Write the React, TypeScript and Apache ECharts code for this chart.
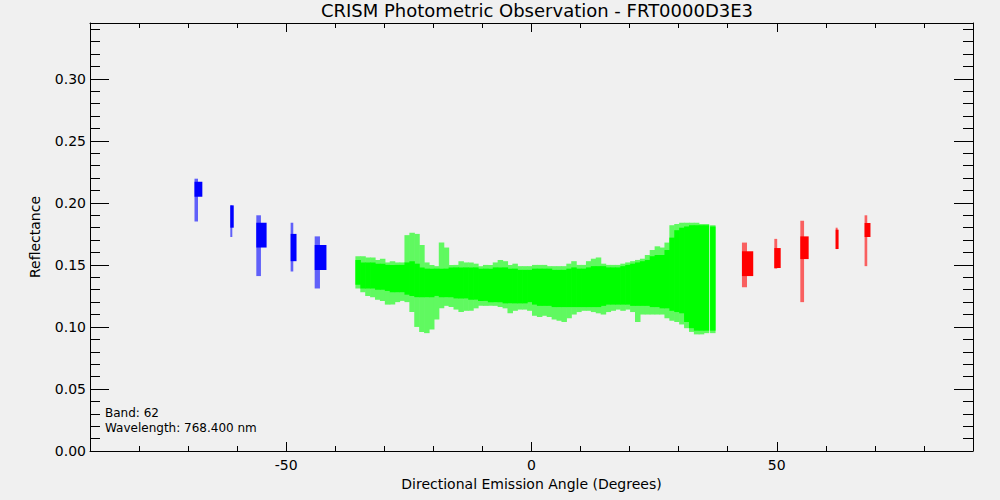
import { useEffect, useRef } from "react";
import * as echarts from "echarts";

const TITLE = "CRISM Photometric Observation - FRT0000D3E3";
const X_NAME = "Directional Emission Angle (Degrees)";
const Y_NAME = "Reflectance";
const NOTE_BAND = "Band: 62";
const NOTE_WAVE = "Wavelength: 768.400 nm";

const xMajorTicks = [-50, 0, 50];
const xMinorTicks = [-80, -70, -60, -40, -30, -20, -10, 10, 20, 30, 40, 60, 70, 80];
const yMajorTicks = [0, 0.05, 0.1, 0.15, 0.2, 0.25, 0.3];
const yMinorTicks = [
  0.01, 0.02, 0.03, 0.04, 0.06, 0.07, 0.08, 0.09, 0.11, 0.12, 0.13, 0.14,
  0.16, 0.17, 0.18, 0.19, 0.21, 0.22, 0.23, 0.24, 0.26, 0.27, 0.28, 0.29,
  0.31, 0.32, 0.33, 0.34,
];

// Green (nadir-ish) observation: per 1-degree column, dense core and sparse envelope
const greenAngle = [
  -35.4, -34.4, -33.4, -32.4, -31.4, -30.4, -29.4, -28.4, -27.4, -26.4,
  -25.4, -24.4, -23.4, -22.4, -21.4, -20.4, -19.4, -18.4, -17.4, -16.4,
  -15.4, -14.4, -13.4, -12.4, -11.4, -10.4, -9.4, -8.4, -7.4, -6.4,
  -5.4, -4.4, -3.4, -2.4, -1.4, -0.4, 0.6, 1.6, 2.6, 3.6,
  4.6, 5.6, 6.6, 7.6, 8.6, 9.6, 10.6, 11.6, 12.6, 13.6,
  14.6, 15.6, 16.6, 17.6, 18.6, 19.6, 20.6, 21.6, 22.6, 23.6,
  24.6, 25.6, 26.6, 27.6, 28.6, 29.6, 30.6, 31.6, 32.6, 33.6,
  34.6, 35.6, 36.9,
];
const greenCoreLo = [
  0.134, 0.131, 0.131, 0.131, 0.130, 0.130, 0.129, 0.128, 0.128, 0.128,
  0.126, 0.125, 0.124, 0.124, 0.124, 0.124, 0.125, 0.124, 0.124, 0.124,
  0.123, 0.123, 0.123, 0.122, 0.122, 0.121, 0.121, 0.120, 0.120, 0.120,
  0.119, 0.119, 0.119, 0.119, 0.119, 0.120, 0.118, 0.117, 0.117, 0.117,
  0.116, 0.116, 0.116, 0.116, 0.116, 0.116, 0.116, 0.116, 0.116, 0.116,
  0.117, 0.118, 0.118, 0.118, 0.118, 0.118, 0.117, 0.117, 0.117, 0.117,
  0.116, 0.116, 0.115, 0.115, 0.113, 0.112, 0.111, 0.104, 0.099, 0.097,
  0.097, 0.097, 0.097,
];
const greenCoreHi = [
  0.154, 0.152, 0.152, 0.152, 0.151, 0.151, 0.150, 0.150, 0.150, 0.150,
  0.152, 0.153, 0.151, 0.148, 0.147, 0.147, 0.147, 0.147, 0.147, 0.148,
  0.148, 0.148, 0.148, 0.148, 0.148, 0.147, 0.147, 0.147, 0.148, 0.148,
  0.148, 0.147, 0.147, 0.146, 0.146, 0.146, 0.147, 0.147, 0.147, 0.147,
  0.146, 0.146, 0.146, 0.147, 0.148, 0.147, 0.147, 0.148, 0.149, 0.149,
  0.149, 0.148, 0.148, 0.148, 0.149, 0.150, 0.151, 0.152, 0.153, 0.154,
  0.157, 0.158, 0.158, 0.162, 0.172, 0.178, 0.180, 0.181, 0.182, 0.182,
  0.182, 0.182, 0.181,
];
const greenEnvLo = [
  0.131, 0.128, 0.125, 0.124, 0.122, 0.121, 0.118, 0.118, 0.120, 0.121,
  0.120, 0.112, 0.100, 0.096, 0.095, 0.098, 0.106, 0.115, 0.117, 0.116,
  0.114, 0.112, 0.113, 0.113, 0.115, 0.117, 0.117, 0.117, 0.117, 0.116,
  0.115, 0.111, 0.113, 0.114, 0.114, 0.113, 0.109, 0.108, 0.109, 0.108,
  0.106, 0.105, 0.104, 0.107, 0.110, 0.112, 0.113, 0.113, 0.112, 0.111,
  0.110, 0.112, 0.113, 0.114, 0.113, 0.114, 0.112, 0.104, 0.110, 0.110,
  0.110, 0.110, 0.110, 0.107, 0.105, 0.104, 0.102, 0.099, 0.096, 0.094,
  0.094, 0.095, 0.095,
];
const greenEnvHi = [
  0.157, 0.157, 0.156, 0.156, 0.154, 0.155, 0.152, 0.153, 0.152, 0.152,
  0.174, 0.176, 0.175, 0.166, 0.152, 0.150, 0.149, 0.168, 0.164, 0.150,
  0.150, 0.153, 0.152, 0.152, 0.151, 0.149, 0.150, 0.150, 0.152, 0.154,
  0.153, 0.150, 0.151, 0.149, 0.149, 0.149, 0.150, 0.150, 0.150, 0.149,
  0.149, 0.149, 0.149, 0.151, 0.153, 0.150, 0.150, 0.153, 0.155, 0.156,
  0.151, 0.150, 0.150, 0.150, 0.151, 0.152, 0.153, 0.154, 0.155, 0.158,
  0.162, 0.165, 0.164, 0.168, 0.182, 0.183, 0.184, 0.184, 0.184, 0.184,
  0.183, 0.183, 0.182,
];

// Blue (negative emission angle) clusters
const blueAngleLo = [-68.7, -61.4, -56.1, -49.1, -44.2];
const blueAngleHi = [-67.1, -60.7, -54.0, -47.9, -41.8];
const blueCoreLo = [0.205, 0.180, 0.164, 0.153, 0.146];
const blueCoreHi = [0.217, 0.198, 0.184, 0.175, 0.166];
const blueEnvLo = [0.185, 0.1725, 0.141, 0.1447, 0.131];
const blueEnvHi = [0.2195, 0.198, 0.190, 0.184, 0.173];

// Red (positive emission angle) clusters
const redAngleLo = [42.9, 49.5, 54.8, 62.0, 67.9];
const redAngleHi = [45.2, 50.8, 56.5, 62.6, 69.1];
const redCoreLo = [0.141, 0.1475, 0.1547, 0.1628, 0.1725];
const redCoreHi = [0.161, 0.1636, 0.173, 0.1784, 0.1838];
const redEnvLo = [0.132, 0.147, 0.120, 0.1628, 0.149];
const redEnvHi = [0.168, 0.171, 0.1856, 0.180, 0.190];

const FONT = "DejaVu Sans";
const BLACK = "#000000";

function columnItem(color: string) {
  return (_p: any, api: any) => {
    const a = api.value(0);
    const lo = api.value(1);
    const hi = api.value(2);
    const p0 = api.coord([a - 0.5, hi]);
    const p1 = api.coord([a + 0.5, lo]);
    return {
      type: "rect",
      shape: { x: p0[0], y: p0[1], width: p1[0] - p0[0] + 0.6, height: p1[1] - p0[1] },
      style: { fill: color },
    };
  };
}

function clusterItem(color: string, env: boolean) {
  return (_p: any, api: any) => {
    const a0 = api.value(0);
    const a1 = api.value(1);
    const lo = api.value(2);
    const hi = api.value(3);
    const p0 = api.coord([a0, hi]);
    const p1 = api.coord([a1, lo]);
    let w = p1[0] - p0[0];
    if (env) w = Math.max(2, w * 0.45);
    return {
      type: "rect",
      shape: { x: p0[0], y: p0[1], width: w, height: p1[1] - p0[1] },
      style: { fill: color },
    };
  };
}

function xAxisDef(position: string, major: boolean, withLabels: boolean) {
  return {
    type: "value",
    min: -90,
    max: 90,
    position,
    axisLine: { show: major, onZero: false, lineStyle: { color: BLACK, width: 1 } },
    axisTick: {
      show: true,
      inside: true,
      length: major ? 9 : 5,
      customValues: major ? xMajorTicks : xMinorTicks,
      lineStyle: { color: BLACK, width: 1 },
    },
    axisLabel: withLabels
      ? {
          show: true,
          customValues: xMajorTicks,
          margin: 7,
          color: BLACK,
          fontSize: 14,
          fontFamily: FONT,
        }
      : { show: false },
    splitLine: { show: false },
    ...(withLabels
      ? {
          name: X_NAME,
          nameLocation: "middle",
          nameGap: 22,
          nameTextStyle: { color: BLACK, fontSize: 14, fontFamily: FONT },
        }
      : {}),
  };
}

function yAxisDef(position: string, major: boolean, withLabels: boolean) {
  return {
    type: "value",
    min: 0,
    max: 0.345,
    position,
    axisLine: { show: major, onZero: false, lineStyle: { color: BLACK, width: 1 } },
    axisTick: {
      show: true,
      inside: true,
      length: major ? 19 : 10,
      customValues: major ? yMajorTicks : yMinorTicks,
      lineStyle: { color: BLACK, width: 1 },
    },
    axisLabel: withLabels
      ? {
          show: true,
          customValues: yMajorTicks,
          margin: 4,
          color: BLACK,
          fontSize: 14,
          fontFamily: FONT,
          formatter: (v: number) => v.toFixed(2),
        }
      : { show: false },
    splitLine: { show: false },
    ...(withLabels
      ? {
          name: Y_NAME,
          nameLocation: "middle",
          nameRotate: 90,
          nameGap: 48,
          nameTextStyle: { color: BLACK, fontSize: 14, fontFamily: FONT },
        }
      : {}),
  };
}

export default function App() {
  const ref = useRef<HTMLDivElement>(null);

  useEffect(() => {
    document.body.style.margin = "0";
    if (!ref.current) return;
    const chart = echarts.init(ref.current, undefined, { renderer: "svg" });

    const greenCore = greenAngle.map((a, i) => [a, greenCoreLo[i], greenCoreHi[i]]);
    const greenEnv = greenAngle.map((a, i) => [a, greenEnvLo[i], greenEnvHi[i]]);
    const blueCore = blueAngleLo.map((a, i) => [a, blueAngleHi[i], blueCoreLo[i], blueCoreHi[i]]);
    const blueEnv = blueAngleLo.map((a, i) => [a, blueAngleHi[i], blueEnvLo[i], blueEnvHi[i]]);
    const redCore = redAngleLo.map((a, i) => [a, redAngleHi[i], redCoreLo[i], redCoreHi[i]]);
    const redEnv = redAngleLo.map((a, i) => [a, redAngleHi[i], redEnvLo[i], redEnvHi[i]]);

    const clusterEncode = { x: [0, 1], y: [2, 3] };
    const colEncode = { x: 0, y: [1, 2] };

    chart.setOption({
      animation: false,
      backgroundColor: "#f0f0f0",
      grid: { left: 90, right: 27, top: 23, bottom: 49, outerBoundsMode: "none" },
      xAxis: [
        xAxisDef("bottom", true, true),
        xAxisDef("bottom", false, false),
        xAxisDef("top", true, false),
        xAxisDef("top", false, false),
      ],
      yAxis: [
        yAxisDef("left", true, true),
        yAxisDef("left", false, false),
        yAxisDef("right", true, false),
        yAxisDef("right", false, false),
      ],
      graphic: [
        {
          type: "text",
          x: 537,
          y: 10,
          style: {
            text: TITLE,
            fill: BLACK,
            font: `18px "${FONT}"`,
            textAlign: "center",
            textVerticalAlign: "middle",
            align: "center",
            verticalAlign: "middle",
          },
        },
        {
          type: "text",
          x: 105,
          y: 413,
          style: {
            text: NOTE_BAND,
            fill: BLACK,
            font: `12px "${FONT}"`,
            textAlign: "left",
            textVerticalAlign: "middle",
            align: "left",
            verticalAlign: "middle",
          },
        },
        {
          type: "text",
          x: 105,
          y: 428,
          style: {
            text: NOTE_WAVE,
            fill: BLACK,
            font: `12px "${FONT}"`,
            textAlign: "left",
            textVerticalAlign: "middle",
            align: "left",
            verticalAlign: "middle",
          },
        },
      ],
      series: [
        { type: "custom", silent: true, renderItem: columnItem("#60f960"), data: greenEnv, encode: colEncode },
        { type: "custom", silent: true, renderItem: columnItem("#00ff00"), data: greenCore, encode: colEncode },
        { type: "custom", silent: true, renderItem: clusterItem("#6060f9", true), data: blueEnv, encode: clusterEncode },
        { type: "custom", silent: true, renderItem: clusterItem("#0000ff", false), data: blueCore, encode: clusterEncode },
        { type: "custom", silent: true, renderItem: clusterItem("#f96060", true), data: redEnv, encode: clusterEncode },
        { type: "custom", silent: true, renderItem: clusterItem("#ff0000", false), data: redCore, encode: clusterEncode },
      ],
    });

    return () => {
      chart.dispose();
    };
  }, []);

  return <div ref={ref} style={{ width: 1000, height: 500 }} />;
}
